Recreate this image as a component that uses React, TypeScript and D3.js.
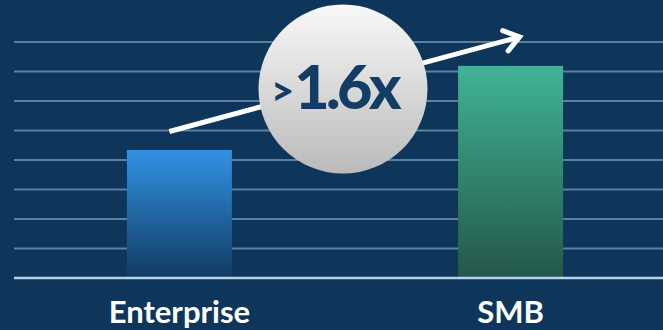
import React from "react";
import * as d3 from "d3";

const categories = ["Enterprise", "SMB"];
const values = [4.34, 7.19];
const gridTicks = [1, 2, 3, 4, 5, 6, 7, 8];
const badgePrefix = ">";
const badgeText = "1.6x";

const W = 663;
const H = 330;

export default function App() {
  const x = d3
    .scaleBand<string>()
    .domain(categories)
    .range([14, 676])
    .paddingInner(0.683)
    .paddingOuter(0.341);
  const y = d3.scaleLinear().domain([0, 8]).range([278, 42]);

  const c0 = x(categories[0])! + x.bandwidth() / 2;
  const c1 = x(categories[1])! + x.bandwidth() / 2;
  const start: [number, number] = [c0 - 10, y(values[0]) - 18.5];
  const end: [number, number] = [c1 + 9, y(values[1]) - 29];
  const ang = Math.atan2(end[1] - start[1], end[0] - start[0]);
  const headLen = 18;
  const headAng = 0.62;
  const h1: [number, number] = [end[0] - headLen * Math.cos(ang - headAng), end[1] - headLen * Math.sin(ang - headAng)];
  const h2: [number, number] = [end[0] - headLen * Math.cos(ang + headAng), end[1] - headLen * Math.sin(ang + headAng)];
  const line = d3.line();

  const fills = ["url(#gEnt)", "url(#gSmb)"];

  return (
    <svg width={W} height={H} style={{ position: "absolute", left: 0, top: 0, display: "block" }}>
      <defs>
        <linearGradient id="gEnt" x1="0" y1="0" x2="0" y2="1">
          <stop offset="0" stopColor="#3392e4" />
          <stop offset="1" stopColor="#113b62" />
        </linearGradient>
        <linearGradient id="gSmb" x1="0" y1="0" x2="0" y2="1">
          <stop offset="0" stopColor="#40b497" />
          <stop offset="1" stopColor="#245748" />
        </linearGradient>
        <linearGradient id="gCircle" x1="0" y1="0" x2="0" y2="1">
          <stop offset="0" stopColor="#f8f8f8" />
          <stop offset="1" stopColor="#bababa" />
        </linearGradient>
      </defs>
      <rect x={0} y={0} width={W} height={H} fill="#0d365a" />
      {gridTicks.map((t) => (
        <line key={t} x1={14} x2={W} y1={y(t)} y2={y(t)} stroke="#5a80a2" strokeWidth={2} />
      ))}
      {categories.map((c, i) => (
        <rect
          key={c}
          x={x(c)}
          y={y(values[i])}
          width={x.bandwidth()}
          height={y(0) - y(values[i])}
          fill={fills[i]}
        />
      ))}
      <line x1={14} x2={W} y1={y(0)} y2={y(0)} stroke="#b9d2ea" strokeWidth={2.5} />
      <path d={line([start, end])!} stroke="#ffffff" strokeWidth={5} fill="none" />
      <path
        d={line([h1, end, h2])!}
        stroke="#ffffff"
        strokeWidth={5}
        fill="none"
        strokeLinecap="round"
        strokeLinejoin="miter"
      />
      <circle cx={343} cy={89} r={84.5} fill="url(#gCircle)" />
      <text x={271} y={108.5} fontFamily="Lato" fill="#123e66">
        <tspan fontWeight={900} fontSize={40} dy={-4}>
          {badgePrefix}
        </tspan>
        <tspan fontWeight={900} fontSize={61} letterSpacing={-3.5} dx={0} dy={4}>
          {badgeText}
        </tspan>
      </text>
      {categories.map((c) => (
        <text
          key={c}
          x={x(c)! + x.bandwidth() / 2}
          y={323}
          textAnchor="middle"
          fontFamily="Lato"
          fontWeight={700}
          fontSize={31}
          fill="#ffffff"
        >
          {c}
        </text>
      ))}
    </svg>
  );
}
